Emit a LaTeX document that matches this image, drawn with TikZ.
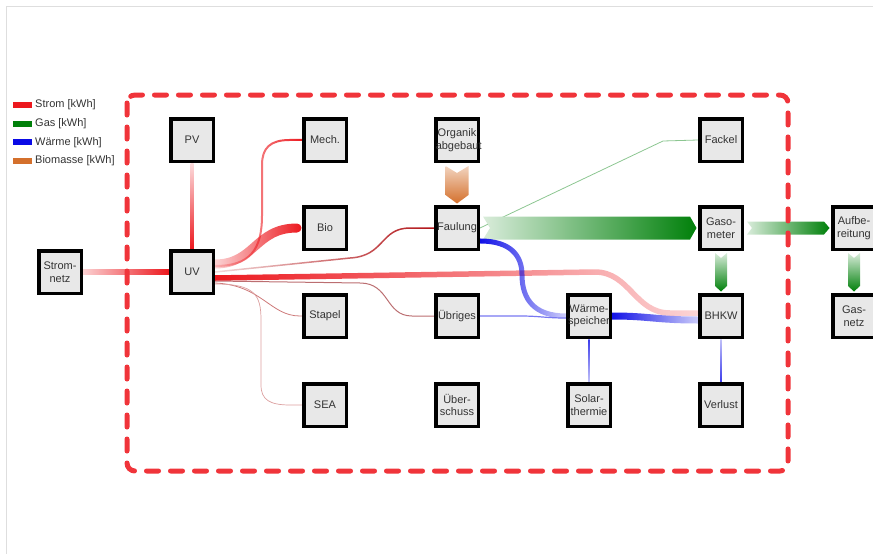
\documentclass[tikz,border=0pt]{standalone}
\usepackage{fontspec}
\setmainfont{Liberation Sans}
\usetikzlibrary{fadings}

\definecolor{strom}{RGB}{236,24,30}
\definecolor{gas}{RGB}{0,128,10}
\definecolor{waerme}{RGB}{10,10,230}
\definecolor{biom}{RGB}{212,112,44}
\definecolor{rahmen}{RGB}{240,52,58}
\definecolor{boxfill}{RGB}{232,232,232}
\definecolor{thinred}{RGB}{205,120,120}

\pgfdeclarelayer{flows}
\pgfsetlayers{flows,main}

\tikzfading[name=fadeinR, left color=transparent!85, right color=transparent!0]
\tikzfading[name=fadeoutR, left color=transparent!0, middle color=transparent!15, right color=transparent!82]

\begin{document}
\begin{tikzpicture}[x=1pt, y=-1pt,
    lbl/.style={font=\fontsize{11}{12.7}\selectfont, text=black!80},
    blk/.style={lbl, draw=black, line width=3.5pt, fill=boxfill, minimum size=42.5pt,
      text width=42.5pt, inner sep=0pt, align=center},
    legtext/.style={lbl, anchor=west, inner sep=0pt}]
\useasboundingbox (0,0) rectangle (873,554);
\draw[black!13, line width=1.5pt] (873,6.5) -- (6.5,6.5) -- (6.5,554);

% Legend
\foreach \c/\t [count=\i] in {strom/Strom, gas/Gas, waerme/Wärme, biom/Biomasse}
{
  \fill[\c] (13,{82.9+18.8*\i}) rectangle (32,{88.9+18.8*\i});
  \node[legtext] (leg\i) at (35,{85.9+18.8*\i}) {\t{} [kWh]};
}

% Components
\node[blk] (netz) at (60,272) {Strom-\\netz};
\node[blk] (uv) at (192,272) {UV};
\node[blk] (pv) at (192,140) {PV};
\node[blk] (mech) at (325,140) {Mech.};
\node[blk] (bio) at (325,228) {Bio};
\node[blk] (stapel) at (325,316) {Stapel};
\node[blk] (sea) at (325,405) {SEA};
\node[blk] (organik) at (457,140) {Organik\\abgebaut};
\node[blk] (faul) at (457,228) {Faulung};
\node[blk] (uebr) at (457,316) {Übriges};
\node[blk] (ueber) at (457,405) {Über-\\schuss};
\node[blk] (wsp) at (589,316) {Wärme-\\speicher};
\node[blk] (solar) at (589,405) {Solar-\\thermie};
\node[blk] (fackel) at (721,140) {Fackel};
\node[blk] (gaso) at (721,228) {Gaso-\\meter};
\node[blk] (bhkw) at (721,316) {BHKW};
\node[blk] (verl) at (721,405) {Verlust};
\node[blk] (aufb) at (854,228) {Aufbe-\\reitung};
\node[blk] (gasnetz) at (854,316) {Gas-\\netz};

\begin{pgfonlayer}{flows}
% Strom
\shade[left color=strom!20, right color=strom] ([yshift=2.5pt]netz.east) rectangle ([yshift=-2.5pt]uv.west);
\shade[top color=strom!15, bottom color=strom] ([xshift=-1.5pt]pv.south) rectangle ([xshift=1.5pt]uv.north);
\draw[strom, line width=2pt, path fading=fadeinR] ([yshift=6pt]uv.east)
  .. controls (250,266) and (262,250) .. (262,215) -- (262,165)
  .. controls (262,148) and (270,140) .. (290,140) -- (mech.west);
\draw[strom, line width=9pt, line cap=round, path fading=fadeinR] ([yshift=8pt]uv.east)
  .. controls (255,264) and (255,228) .. ([xshift=-5pt]bio.west);
\draw[strom!75!black, line width=1.5pt, path fading=fadeinR] (uv.east) -- (350,258)
  .. controls (385,256) and (380,228) .. (410,228) -- (faul.west);
\draw[strom, line width=5.5pt, path fading=fadeoutR] ([yshift=-6pt]uv.east) -- (595,272)
  .. controls (630,272) and (635,313) .. (670,313) -- ([yshift=3pt]bhkw.west);
\draw[thinred, line width=0.8pt] ([yshift=-11pt]uv.east)
  .. controls (262,285) and (270,316) .. (300,316) -- (stapel.west);
\draw[thinred!70, line width=0.7pt] ([yshift=-12pt]uv.east)
  .. controls (255,284) and (261,295) .. (261,320) -- (261,385)
  .. controls (261,400) and (270,405) .. (290,405) -- (sea.west);
\draw[strom!60!black, opacity=0.6, line width=1pt] ([yshift=-9pt]uv.east) -- (360,283)
  .. controls (390,283) and (385,316) .. (412,316) -- (uebr.west);
% Gas
\draw[gas!45, line width=0.8pt] (faul.east) -- (663,141) -- (fackel.west);
\shade[left color=gas!15, right color=gas] ([shift={(3,-11.5)}]faul.east) -- ([shift={(-8,-11.5)}]gaso.west)
  -- ([xshift=-1.5pt]gaso.west) -- ([shift={(-8,11.5)}]gaso.west) -- ([shift={(3,11.5)}]faul.east)
  -- ([xshift=10pt]faul.east) -- cycle;
\shade[left color=gas!15, right color=gas] ([shift={(3,-6.5)}]gaso.east) -- ([shift={(-7,-6.5)}]aufb.west)
  -- ([xshift=-1.5pt]aufb.west) -- ([shift={(-7,6.5)}]aufb.west) -- ([shift={(3,6.5)}]gaso.east)
  -- ([xshift=8pt]gaso.east) -- cycle;
\shade[top color=gas!15, bottom color=gas] ([shift={(-6,2)}]gaso.south) -- ([shift={(-6,-7)}]bhkw.north)
  -- ([yshift=1.5pt]bhkw.north) -- ([shift={(6,-7)}]bhkw.north) -- ([shift={(6,2)}]gaso.south)
  -- ([yshift=-7pt]gaso.south) -- cycle;
\shade[top color=gas!15, bottom color=gas] ([shift={(-6,2)}]aufb.south) -- ([shift={(-6,-7)}]gasnetz.north)
  -- ([yshift=1.5pt]gasnetz.north) -- ([shift={(6,-7)}]gasnetz.north) -- ([shift={(6,2)}]aufb.south)
  -- ([yshift=-7pt]aufb.south) -- cycle;
% Biomasse
\shade[top color=biom!30, bottom color=biom] ([shift={(-11.5,3)}]organik.south) -- ([shift={(-11.5,-10)}]faul.north)
  -- ([yshift=1.5pt]faul.north) -- ([shift={(11.5,-10)}]faul.north) -- ([shift={(11.5,3)}]organik.south)
  -- ([yshift=-10pt]organik.south) -- cycle;
% Waerme
\draw[waerme, line width=5pt, path fading=fadeoutR] ([yshift=-13pt]faul.east)
  .. controls (510,241) and (522,255) .. (522,275)
  .. controls (522,300) and (535,316) .. (wsp.west);
\draw[waerme!55, line width=1.2pt] (uebr.east) -- (520,316)
  .. controls (540,316) and (545,318) .. ([yshift=-2pt]wsp.west);
\draw[waerme, line width=7pt, path fading=fadeoutR] (wsp.east)
  .. controls (650,316) and (655,320) .. ([yshift=-4pt]bhkw.west);
\shade[top color=waerme!80, bottom color=waerme!25] ([xshift=-0.7pt]wsp.south) rectangle ([xshift=0.7pt]solar.north);
\shade[top color=waerme!25, bottom color=waerme!80] ([xshift=-0.7pt]bhkw.south) rectangle ([xshift=0.7pt]verl.north);
\end{pgfonlayer}

% System boundary
\draw[rahmen, line width=5pt, dash pattern=on 12pt off 12pt, line cap=round, rounded corners=8pt]
  (127,95) rectangle (788,471);
\end{tikzpicture}
\end{document}
